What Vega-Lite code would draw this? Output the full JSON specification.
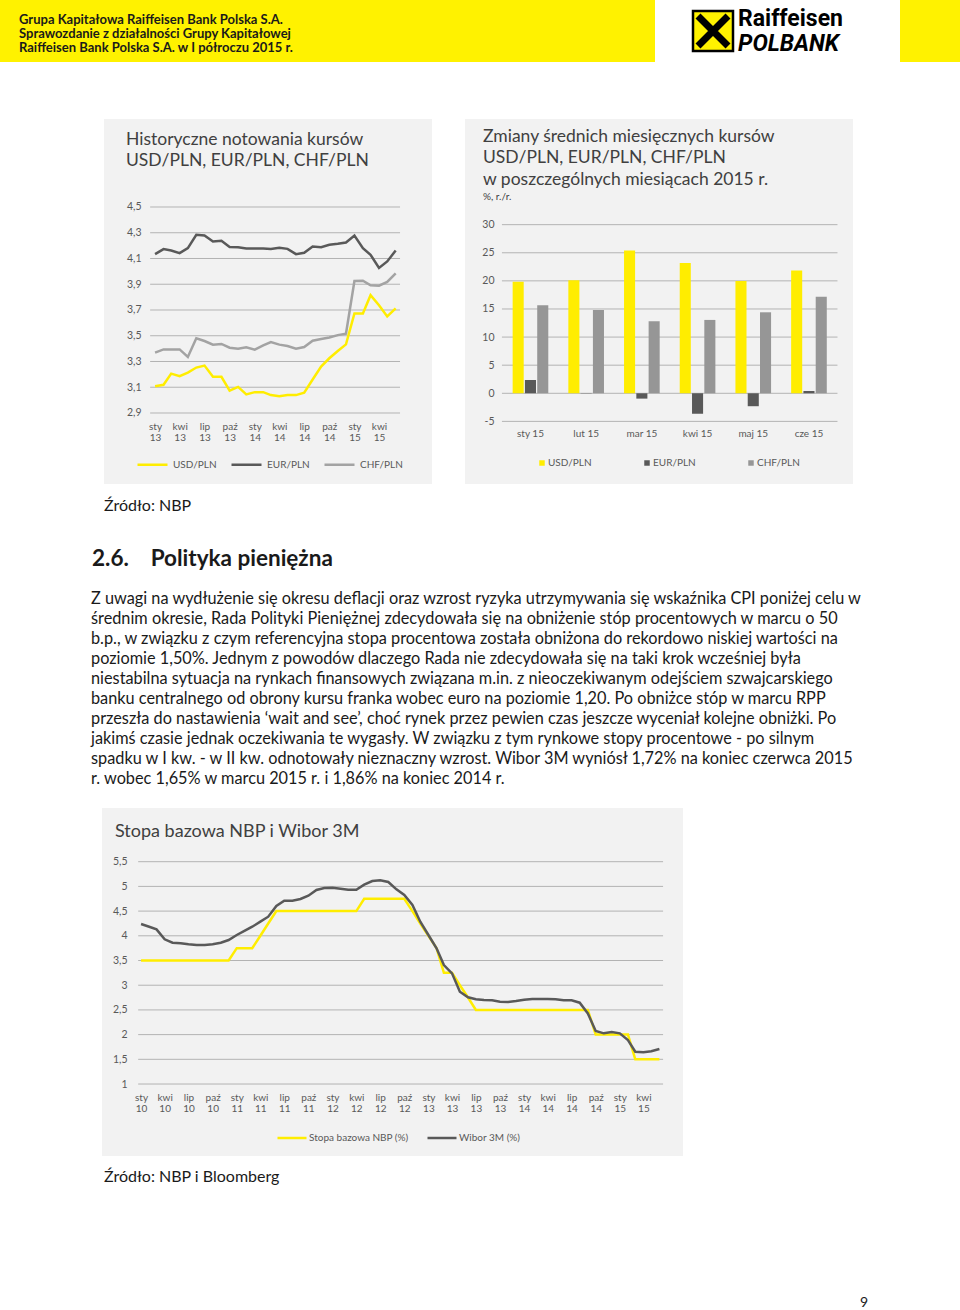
{
  "$schema": "https://vega.github.io/schema/vega-lite/v6.json",
  "padding": 0,
  "spacing": 0,
  "background": "#ffffff",
  "resolve": {"scale": {"color": "independent"}, "legend": {"color": "independent"}},
  "config": {
    "font": "Lato",
    "view": {"stroke": null},
    "concat": {"spacing": 0},
    "axis": {"labelFont": "Lato", "labelColor": "#595959", "ticks": false, "domain": false, "grid": false, "labelPadding": 0, "labelOverlap": false, "labelFlush": false},
    "legend": {"labelFont": "Lato", "labelColor": "#595959", "labelFontSize": 10, "padding": 0},
    "title": {"font": "Lato", "anchor": "start", "frame": "group", "fontWeight": "normal", "color": "#404040"}
  },
  "datasets": {
    "kursy": [
      {"data": "2013-01-01", "USD/PLN": 3.108, "EUR/PLN": 4.134, "CHF/PLN": 3.369},
      {"data": "2013-02-01", "USD/PLN": 3.119, "EUR/PLN": 4.173, "CHF/PLN": 3.394},
      {"data": "2013-03-01", "USD/PLN": 3.206, "EUR/PLN": 4.162, "CHF/PLN": 3.394},
      {"data": "2013-04-01", "USD/PLN": 3.186, "EUR/PLN": 4.142, "CHF/PLN": 3.394},
      {"data": "2013-05-01", "USD/PLN": 3.214, "EUR/PLN": 4.18, "CHF/PLN": 3.335},
      {"data": "2013-06-01", "USD/PLN": 3.253, "EUR/PLN": 4.284, "CHF/PLN": 3.48},
      {"data": "2013-07-01", "USD/PLN": 3.268, "EUR/PLN": 4.278, "CHF/PLN": 3.459},
      {"data": "2013-08-01", "USD/PLN": 3.181, "EUR/PLN": 4.232, "CHF/PLN": 3.431},
      {"data": "2013-09-01", "USD/PLN": 3.181, "EUR/PLN": 4.237, "CHF/PLN": 3.436},
      {"data": "2013-10-01", "USD/PLN": 3.073, "EUR/PLN": 4.19, "CHF/PLN": 3.407},
      {"data": "2013-11-01", "USD/PLN": 3.103, "EUR/PLN": 4.188, "CHF/PLN": 3.4},
      {"data": "2013-12-01", "USD/PLN": 3.044, "EUR/PLN": 4.178, "CHF/PLN": 3.41},
      {"data": "2014-01-01", "USD/PLN": 3.062, "EUR/PLN": 4.178, "CHF/PLN": 3.392},
      {"data": "2014-02-01", "USD/PLN": 3.062, "EUR/PLN": 4.178, "CHF/PLN": 3.425},
      {"data": "2014-03-01", "USD/PLN": 3.039, "EUR/PLN": 4.173, "CHF/PLN": 3.451},
      {"data": "2014-04-01", "USD/PLN": 3.031, "EUR/PLN": 4.183, "CHF/PLN": 3.431},
      {"data": "2014-05-01", "USD/PLN": 3.039, "EUR/PLN": 4.175, "CHF/PLN": 3.42},
      {"data": "2014-06-01", "USD/PLN": 3.039, "EUR/PLN": 4.134, "CHF/PLN": 3.4},
      {"data": "2014-07-01", "USD/PLN": 3.057, "EUR/PLN": 4.144, "CHF/PLN": 3.412},
      {"data": "2014-08-01", "USD/PLN": 3.16, "EUR/PLN": 4.193, "CHF/PLN": 3.461},
      {"data": "2014-09-01", "USD/PLN": 3.261, "EUR/PLN": 4.188, "CHF/PLN": 3.474},
      {"data": "2014-10-01", "USD/PLN": 3.325, "EUR/PLN": 4.206, "CHF/PLN": 3.487},
      {"data": "2014-11-01", "USD/PLN": 3.382, "EUR/PLN": 4.214, "CHF/PLN": 3.505},
      {"data": "2014-12-01", "USD/PLN": 3.433, "EUR/PLN": 4.224, "CHF/PLN": 3.516},
      {"data": "2015-01-01", "USD/PLN": 3.673, "EUR/PLN": 4.278, "CHF/PLN": 3.925},
      {"data": "2015-02-01", "USD/PLN": 3.673, "EUR/PLN": 4.18, "CHF/PLN": 3.928},
      {"data": "2015-03-01", "USD/PLN": 3.815, "EUR/PLN": 4.129, "CHF/PLN": 3.892},
      {"data": "2015-04-01", "USD/PLN": 3.737, "EUR/PLN": 4.026, "CHF/PLN": 3.889},
      {"data": "2015-05-01", "USD/PLN": 3.65, "EUR/PLN": 4.077, "CHF/PLN": 3.918},
      {"data": "2015-06-01", "USD/PLN": 3.712, "EUR/PLN": 4.162, "CHF/PLN": 3.985}
    ],
    "zmiany": [
      {"miesiac": "sty 15", "USD/PLN": 19.85, "EUR/PLN": 2.36, "CHF/PLN": 15.65},
      {"miesiac": "lut 15", "USD/PLN": 20.1, "EUR/PLN": 0.05, "CHF/PLN": 14.83},
      {"miesiac": "mar 15", "USD/PLN": 25.4, "EUR/PLN": -0.95, "CHF/PLN": 12.82},
      {"miesiac": "kwi 15", "USD/PLN": 23.2, "EUR/PLN": -3.66, "CHF/PLN": 13.05},
      {"miesiac": "maj 15", "USD/PLN": 19.96, "EUR/PLN": -2.3, "CHF/PLN": 14.41},
      {"miesiac": "cze 15", "USD/PLN": 21.85, "EUR/PLN": 0.41, "CHF/PLN": 17.19}
    ],
    "stopy": [
      {"data": "2010-01-01", "Stopa bazowa NBP (%)": 3.5, "Wibor 3M (%)": 4.239},
      {"data": "2010-02-01", "Stopa bazowa NBP (%)": 3.5, "Wibor 3M (%)": 4.184},
      {"data": "2010-03-01", "Stopa bazowa NBP (%)": 3.5, "Wibor 3M (%)": 4.131},
      {"data": "2010-04-01", "Stopa bazowa NBP (%)": 3.5, "Wibor 3M (%)": 3.929},
      {"data": "2010-05-01", "Stopa bazowa NBP (%)": 3.5, "Wibor 3M (%)": 3.86},
      {"data": "2010-06-01", "Stopa bazowa NBP (%)": 3.5, "Wibor 3M (%)": 3.848},
      {"data": "2010-07-01", "Stopa bazowa NBP (%)": 3.5, "Wibor 3M (%)": 3.828},
      {"data": "2010-08-01", "Stopa bazowa NBP (%)": 3.5, "Wibor 3M (%)": 3.814},
      {"data": "2010-09-01", "Stopa bazowa NBP (%)": 3.5, "Wibor 3M (%)": 3.814},
      {"data": "2010-10-01", "Stopa bazowa NBP (%)": 3.5, "Wibor 3M (%)": 3.828},
      {"data": "2010-11-01", "Stopa bazowa NBP (%)": 3.5, "Wibor 3M (%)": 3.86},
      {"data": "2010-12-01", "Stopa bazowa NBP (%)": 3.5, "Wibor 3M (%)": 3.915},
      {"data": "2011-01-01", "Stopa bazowa NBP (%)": 3.75, "Wibor 3M (%)": 4.016},
      {"data": "2011-02-01", "Stopa bazowa NBP (%)": 3.75, "Wibor 3M (%)": 4.103},
      {"data": "2011-03-01", "Stopa bazowa NBP (%)": 3.75, "Wibor 3M (%)": 4.184},
      {"data": "2011-04-01", "Stopa bazowa NBP (%)": 4.0, "Wibor 3M (%)": 4.286},
      {"data": "2011-05-01", "Stopa bazowa NBP (%)": 4.25, "Wibor 3M (%)": 4.387},
      {"data": "2011-06-01", "Stopa bazowa NBP (%)": 4.5, "Wibor 3M (%)": 4.603},
      {"data": "2011-07-01", "Stopa bazowa NBP (%)": 4.5, "Wibor 3M (%)": 4.711},
      {"data": "2011-08-01", "Stopa bazowa NBP (%)": 4.5, "Wibor 3M (%)": 4.711},
      {"data": "2011-09-01", "Stopa bazowa NBP (%)": 4.5, "Wibor 3M (%)": 4.745},
      {"data": "2011-10-01", "Stopa bazowa NBP (%)": 4.5, "Wibor 3M (%)": 4.812},
      {"data": "2011-11-01", "Stopa bazowa NBP (%)": 4.5, "Wibor 3M (%)": 4.927},
      {"data": "2011-12-01", "Stopa bazowa NBP (%)": 4.5, "Wibor 3M (%)": 4.968},
      {"data": "2012-01-01", "Stopa bazowa NBP (%)": 4.5, "Wibor 3M (%)": 4.975},
      {"data": "2012-02-01", "Stopa bazowa NBP (%)": 4.5, "Wibor 3M (%)": 4.953},
      {"data": "2012-03-01", "Stopa bazowa NBP (%)": 4.5, "Wibor 3M (%)": 4.933},
      {"data": "2012-04-01", "Stopa bazowa NBP (%)": 4.5, "Wibor 3M (%)": 4.933},
      {"data": "2012-05-01", "Stopa bazowa NBP (%)": 4.75, "Wibor 3M (%)": 5.035},
      {"data": "2012-06-01", "Stopa bazowa NBP (%)": 4.75, "Wibor 3M (%)": 5.109},
      {"data": "2012-07-01", "Stopa bazowa NBP (%)": 4.75, "Wibor 3M (%)": 5.123},
      {"data": "2012-08-01", "Stopa bazowa NBP (%)": 4.75, "Wibor 3M (%)": 5.09},
      {"data": "2012-09-01", "Stopa bazowa NBP (%)": 4.75, "Wibor 3M (%)": 4.94},
      {"data": "2012-10-01", "Stopa bazowa NBP (%)": 4.75, "Wibor 3M (%)": 4.826},
      {"data": "2012-11-01", "Stopa bazowa NBP (%)": 4.5, "Wibor 3M (%)": 4.623},
      {"data": "2012-12-01", "Stopa bazowa NBP (%)": 4.25, "Wibor 3M (%)": 4.286},
      {"data": "2013-01-01", "Stopa bazowa NBP (%)": 4.0, "Wibor 3M (%)": 4.016},
      {"data": "2013-02-01", "Stopa bazowa NBP (%)": 3.75, "Wibor 3M (%)": 3.747},
      {"data": "2013-03-01", "Stopa bazowa NBP (%)": 3.25, "Wibor 3M (%)": 3.409},
      {"data": "2013-04-01", "Stopa bazowa NBP (%)": 3.25, "Wibor 3M (%)": 3.24},
      {"data": "2013-05-01", "Stopa bazowa NBP (%)": 3.0, "Wibor 3M (%)": 2.868},
      {"data": "2013-06-01", "Stopa bazowa NBP (%)": 2.75, "Wibor 3M (%)": 2.755},
      {"data": "2013-07-01", "Stopa bazowa NBP (%)": 2.5, "Wibor 3M (%)": 2.715},
      {"data": "2013-08-01", "Stopa bazowa NBP (%)": 2.5, "Wibor 3M (%)": 2.7},
      {"data": "2013-09-01", "Stopa bazowa NBP (%)": 2.5, "Wibor 3M (%)": 2.695},
      {"data": "2013-10-01", "Stopa bazowa NBP (%)": 2.5, "Wibor 3M (%)": 2.666},
      {"data": "2013-11-01", "Stopa bazowa NBP (%)": 2.5, "Wibor 3M (%)": 2.66},
      {"data": "2013-12-01", "Stopa bazowa NBP (%)": 2.5, "Wibor 3M (%)": 2.68},
      {"data": "2014-01-01", "Stopa bazowa NBP (%)": 2.5, "Wibor 3M (%)": 2.707},
      {"data": "2014-02-01", "Stopa bazowa NBP (%)": 2.5, "Wibor 3M (%)": 2.72},
      {"data": "2014-03-01", "Stopa bazowa NBP (%)": 2.5, "Wibor 3M (%)": 2.72},
      {"data": "2014-04-01", "Stopa bazowa NBP (%)": 2.5, "Wibor 3M (%)": 2.72},
      {"data": "2014-05-01", "Stopa bazowa NBP (%)": 2.5, "Wibor 3M (%)": 2.715},
      {"data": "2014-06-01", "Stopa bazowa NBP (%)": 2.5, "Wibor 3M (%)": 2.695},
      {"data": "2014-07-01", "Stopa bazowa NBP (%)": 2.5, "Wibor 3M (%)": 2.695},
      {"data": "2014-08-01", "Stopa bazowa NBP (%)": 2.5, "Wibor 3M (%)": 2.646},
      {"data": "2014-09-01", "Stopa bazowa NBP (%)": 2.5, "Wibor 3M (%)": 2.43},
      {"data": "2014-10-01", "Stopa bazowa NBP (%)": 2.0, "Wibor 3M (%)": 2.073},
      {"data": "2014-11-01", "Stopa bazowa NBP (%)": 2.0, "Wibor 3M (%)": 2.026},
      {"data": "2014-12-01", "Stopa bazowa NBP (%)": 2.0, "Wibor 3M (%)": 2.053},
      {"data": "2015-01-01", "Stopa bazowa NBP (%)": 2.0, "Wibor 3M (%)": 2.026},
      {"data": "2015-02-01", "Stopa bazowa NBP (%)": 2.0, "Wibor 3M (%)": 1.89},
      {"data": "2015-03-01", "Stopa bazowa NBP (%)": 1.5, "Wibor 3M (%)": 1.654},
      {"data": "2015-04-01", "Stopa bazowa NBP (%)": 1.5, "Wibor 3M (%)": 1.641},
      {"data": "2015-05-01", "Stopa bazowa NBP (%)": 1.5, "Wibor 3M (%)": 1.662},
      {"data": "2015-06-01", "Stopa bazowa NBP (%)": 1.5, "Wibor 3M (%)": 1.709}
    ],
    "siatka1": [{"poziom": 2.9}, {"poziom": 3.1}, {"poziom": 3.3}, {"poziom": 3.5}, {"poziom": 3.7}, {"poziom": 3.9}, {"poziom": 4.1}, {"poziom": 4.3}, {"poziom": 4.5}],
    "siatka2": [{"poziom": -5}, {"poziom": 0}, {"poziom": 5}, {"poziom": 10}, {"poziom": 15}, {"poziom": 20}, {"poziom": 25}, {"poziom": 30}],
    "siatka3": [{"poziom": 1}, {"poziom": 1.5}, {"poziom": 2}, {"poziom": 2.5}, {"poziom": 3}, {"poziom": 3.5}, {"poziom": 4}, {"poziom": 4.5}, {"poziom": 5}, {"poziom": 5.5}],
    "akapit": [
      {"nr": 1, "tekst": "Z uwagi na wydłużenie się okresu deflacji oraz wzrost ryzyka utrzymywania się wskaźnika CPI poniżej celu w"},
      {"nr": 2, "tekst": "średnim okresie, Rada Polityki Pieniężnej zdecydowała się na obniżenie stóp procentowych w marcu o 50"},
      {"nr": 3, "tekst": "b.p., w związku z czym referencyjna stopa procentowa została obniżona do rekordowo niskiej wartości na"},
      {"nr": 4, "tekst": "poziomie 1,50%. Jednym z powodów dlaczego Rada nie zdecydowała się na taki krok wcześniej była"},
      {"nr": 5, "tekst": "niestabilna sytuacja na rynkach finansowych związana m.in. z nieoczekiwanym odejściem szwajcarskiego"},
      {"nr": 6, "tekst": "banku centralnego od obrony kursu franka wobec euro na poziomie 1,20. Po obniżce stóp w marcu RPP"},
      {"nr": 7, "tekst": "przeszła do nastawienia ‘wait and see’, choć rynek przez pewien czas jeszcze wyceniał kolejne obniżki. Po"},
      {"nr": 8, "tekst": "jakimś czasie jednak oczekiwania te wygasły. W związku z tym rynkowe stopy procentowe - po silnym"},
      {"nr": 9, "tekst": "spadku w I kw. - w II kw. odnotowały nieznaczny wzrost. Wibor 3M wyniósł 1,72% na koniec czerwca 2015"},
      {"nr": 10, "tekst": "r. wobec 1,65% w marcu 2015 r. i 1,86% na koniec 2014 r."}
    ]
  },
  "vconcat": [
    {
      "spacing": 0,
      "bounds": "flush",
      "hconcat": [
        {"width": 655, "height": 62, "view": {"fill": "#fff200", "stroke": null}, "data": {"values": []}, "mark": "rect", "encoding": {},
         "title": {"text": ["Grupa Kapitałowa Raiffeisen Bank Polska S.A.", "Sprawozdanie z działalności Grupy Kapitałowej", "Raiffeisen Bank Polska S.A. w I półroczu 2015 r."], "dx": 19, "offset": -55, "fontSize": 13, "fontWeight": "bold", "color": "#1a1a1a", "lineHeight": 14}},
        {"width": 38, "height": 62, "data": {"values": []}, "mark": "rect", "encoding": {}},
        {"width": 40, "height": 62, "data": {"values": [{"logo": "Raiffeisen"}]},
         "layer": [
           {"mark": {"type": "point", "shape": "square", "size": 1600, "filled": true, "fill": "#fff200", "stroke": "#000000", "strokeWidth": 2.5, "opacity": 1}, "encoding": {}},
           {"mark": {"type": "point", "shape": "M-0.75,-0.75L0.75,0.75M0.75,-0.75L-0.75,0.75", "size": 1600, "filled": false, "stroke": "#000000", "strokeWidth": 7, "opacity": 1}, "encoding": {}}
         ]},
        {"width": 167, "height": 62, "data": {"values": []}, "mark": "rect", "encoding": {},
         "title": {"text": "Raiffeisen", "subtitle": "POLBANK", "dx": 5, "offset": -56, "font": "Roboto", "fontSize": 23, "fontWeight": "bold", "color": "#000000", "subtitleFont": "Roboto", "subtitleFontSize": 23, "subtitleFontWeight": "bold", "subtitleFontStyle": "italic", "subtitleColor": "#000000", "subtitlePadding": 2}},
        {"width": 60, "height": 62, "view": {"fill": "#fff200", "stroke": null}, "data": {"values": []}, "mark": "rect", "encoding": {}}
      ]
    },
    {"width": 10, "height": 57, "data": {"values": []}, "mark": "rect", "encoding": {}},
    {
      "spacing": 0,
      "bounds": "flush",
      "resolve": {"scale": {"color": "independent"}, "legend": {"color": "independent"}},
      "hconcat": [
        {"width": 104, "height": 365, "data": {"values": []}, "mark": "rect", "encoding": {}},
        {
          "width": 328, "height": 365,
          "view": {"fill": "#f2f2f2", "stroke": null},
          "title": {"text": ["Historyczne notowania kursów", "USD/PLN, EUR/PLN, CHF/PLN"], "dx": 22, "offset": -50, "fontSize": 17.5, "lineHeight": 21},
          "resolve": {"axis": {"x": "independent", "y": "independent"}},
          "layer": [
            {
              "data": {"name": "siatka1"},
              "mark": {"type": "rule", "color": "#b3b3b3", "strokeWidth": 1},
              "encoding": {
                "y": {"field": "poziom", "type": "quantitative", "axis": null, "scale": {"domain": [2.3485, 5.1835], "nice": false, "zero": false}},
                "x": {"datum": {"year": 2012, "month": 12, "date": 14, "utc": true}, "type": "temporal", "axis": null,
                      "scale": {"type": "utc", "domain": [{"year": 2012, "month": 6, "date": 28, "utc": true}, {"year": 2015, "month": 10, "date": 12, "utc": true}]}},
                "x2": {"datum": {"year": 2015, "month": 6, "date": 17, "utc": true}}
              }
            },
            {
              "data": {"name": "kursy"},
              "transform": [{"fold": ["USD/PLN", "EUR/PLN", "CHF/PLN"], "as": ["waluta", "kurs"]}],
              "mark": {"type": "line", "strokeWidth": 2.5},
              "encoding": {
                "x": {"field": "data", "type": "temporal", "title": null,
                      "scale": {"type": "utc", "domain": [{"year": 2012, "month": 6, "date": 28, "utc": true}, {"year": 2015, "month": 10, "date": 12, "utc": true}]},
                      "axis": {"orient": "bottom", "offset": -63, "labelFontSize": 10, "labelLineHeight": 11, "labelOverlap": false,
                               "values": [{"year": 2013, "month": 1, "date": 1, "utc": true}, {"year": 2013, "month": 4, "date": 1, "utc": true}, {"year": 2013, "month": 7, "date": 1, "utc": true}, {"year": 2013, "month": 10, "date": 1, "utc": true}, {"year": 2014, "month": 1, "date": 1, "utc": true}, {"year": 2014, "month": 4, "date": 1, "utc": true}, {"year": 2014, "month": 7, "date": 1, "utc": true}, {"year": 2014, "month": 10, "date": 1, "utc": true}, {"year": 2015, "month": 1, "date": 1, "utc": true}, {"year": 2015, "month": 4, "date": 1, "utc": true}],
                               "labelExpr": "[['sty','lut','mar','kwi','maj','cze','lip','sie','wrz','paź','lis','gru'][utcmonth(datum.value)], utcFormat(datum.value, '%y')]"}},
                "y": {"field": "kurs", "type": "quantitative", "title": null, "scale": {"domain": [2.3485, 5.1835], "nice": false, "zero": false},
                      "axis": {"orient": "left", "offset": -37, "labelFontSize": 10.5, "labelOverlap": false, "values": [2.9, 3.1, 3.3, 3.5, 3.7, 3.9, 4.1, 4.3, 4.5], "labelExpr": "replace(format(datum.value, '.1f'), '.', ',')"}},
                "color": {"field": "waluta", "type": "nominal",
                          "scale": {"domain": ["USD/PLN", "EUR/PLN", "CHF/PLN"], "range": ["#ffed00", "#595959", "#a3a3a3"]},
                          "legend": {"title": null, "orient": "none", "legendX": 32, "legendY": 329, "direction": "horizontal", "symbolType": "stroke", "symbolSize": 900, "symbolStrokeWidth": 2.5, "labelOffset": 4, "columnPadding": 9}}
              }
            }
          ]
        },
        {"width": 33, "height": 365, "data": {"values": []}, "mark": "rect", "encoding": {}},
        {
          "width": 388, "height": 365,
          "view": {"fill": "#f2f2f2", "stroke": null},
          "title": {"text": ["Zmiany średnich miesięcznych kursów", "USD/PLN, EUR/PLN, CHF/PLN", "w poszczególnych miesiącach 2015 r."], "subtitle": "%, r./r.", "dx": 18, "offset": -83, "fontSize": 17.5, "lineHeight": 21.5, "subtitleFontSize": 10, "subtitleColor": "#404040", "subtitlePadding": 4},
          "resolve": {"axis": {"x": "independent", "y": "independent"}},
          "layer": [
            {
              "data": {"name": "siatka2"},
              "mark": {"type": "rule", "color": "#b3b3b3", "strokeWidth": 1},
              "encoding": {
                "y": {"field": "poziom", "type": "quantitative", "axis": null, "scale": {"domain": [-16.14, 48.8], "nice": false, "zero": false}},
                "x": {"datum": "sty 15", "type": "nominal", "bandPosition": -0.3, "axis": null},
                "x2": {"datum": "cze 15", "bandPosition": 1.3}
              }
            },
            {
              "data": {"name": "zmiany"},
              "transform": [{"fold": ["USD/PLN", "EUR/PLN", "CHF/PLN"], "as": ["waluta", "zmiana"]}],
              "mark": {"type": "bar"},
              "encoding": {
                "x": {"field": "miesiac", "type": "nominal", "title": null, "sort": null,
                      "scale": {"type": "band", "domain": ["sty 15", "lut 15", "mar 15", "kwi 15", "maj 15", "cze 15"], "paddingInner": 0.36, "paddingOuter": 0.663, "align": 0.645},
                      "axis": {"orient": "bottom", "offset": -56, "labelAngle": 0, "labelFontSize": 10, "labelOverlap": false}},
                "xOffset": {"field": "waluta", "type": "nominal", "sort": ["USD/PLN", "EUR/PLN", "CHF/PLN"], "scale": {"domain": ["USD/PLN", "EUR/PLN", "CHF/PLN"], "paddingInner": 0.1, "paddingOuter": 0}},
                "y": {"field": "zmiana", "type": "quantitative", "title": null, "scale": {"domain": [-16.14, 48.8], "nice": false, "zero": false},
                      "axis": {"orient": "left", "offset": -29, "labelFontSize": 10.5, "labelOverlap": false, "values": [-5, 0, 5, 10, 15, 20, 25, 30], "labelExpr": "replace(format(datum.value, 'd'), '−', '-')"}},
                "color": {"field": "waluta", "type": "nominal",
                          "scale": {"domain": ["USD/PLN", "EUR/PLN", "CHF/PLN"], "range": ["#ffed00", "#595959", "#969696"]},
                          "legend": {"title": null, "orient": "none", "legendX": 72, "legendY": 339, "direction": "horizontal", "symbolType": "square", "symbolSize": 30, "labelOffset": 1, "columnPadding": 50}}
              }
            }
          ]
        }
      ]
    },
    {
      "spacing": 0,
      "bounds": "flush",
      "hconcat": [
        {"width": 104, "height": 44, "data": {"values": []}, "mark": "rect", "encoding": {}},
        {"width": 300, "height": 44, "data": {"values": [{"tekst": "Źródło: NBP"}]},
         "mark": {"type": "text", "align": "left", "baseline": "middle", "fontSize": 16, "color": "#1a1a1a"},
         "encoding": {"text": {"field": "tekst"}, "x": {"datum": 0, "type": "quantitative", "scale": {"domain": [0, 1]}, "axis": null}}}
      ]
    },
    {
      "spacing": 0,
      "bounds": "flush",
      "hconcat": [
        {"width": 92, "height": 61, "data": {"values": []}, "mark": "rect", "encoding": {}},
        {"width": 400, "height": 61, "data": {"values": [{"tekst": "2.6.\u00a0\u00a0\u00a0\u00a0Polityka pieniężna"}]},
         "mark": {"type": "text", "align": "left", "baseline": "middle", "fontSize": 22.5, "fontWeight": "bold", "color": "#1a1a1a"},
         "encoding": {"text": {"field": "tekst"}, "x": {"datum": 0, "type": "quantitative", "scale": {"domain": [0, 1]}, "axis": null}}}
      ]
    },
    {
      "spacing": 0,
      "bounds": "flush",
      "hconcat": [
        {"width": 91, "height": 200, "data": {"values": []}, "mark": "rect", "encoding": {}},
        {"width": 780, "height": 200, "data": {"name": "akapit"},
         "mark": {"type": "text", "align": "left", "baseline": "middle", "fontSize": 16.3, "color": "#1a1a1a"},
         "encoding": {"text": {"field": "tekst"},
                      "y": {"field": "nr", "type": "ordinal", "axis": null, "scale": {"type": "point", "padding": 0.5}},
                      "x": {"datum": 0, "type": "quantitative", "scale": {"domain": [0, 1]}, "axis": null}}}
      ]
    },
    {"width": 10, "height": 19, "data": {"values": []}, "mark": "rect", "encoding": {}},
    {
      "spacing": 0,
      "bounds": "flush",
      "resolve": {"scale": {"color": "independent"}, "legend": {"color": "independent"}},
      "hconcat": [
        {"width": 102, "height": 348, "data": {"values": []}, "mark": "rect", "encoding": {}},
        {
          "width": 581, "height": 348,
          "view": {"fill": "#f2f2f2", "stroke": null},
          "title": {"text": "Stopa bazowa NBP i Wibor 3M", "dx": 13, "offset": -33, "fontSize": 18},
          "resolve": {"axis": {"x": "independent", "y": "independent"}},
          "layer": [
            {
              "data": {"name": "siatka3"},
              "mark": {"type": "rule", "color": "#b3b3b3", "strokeWidth": 1},
              "encoding": {
                "y": {"field": "poziom", "type": "quantitative", "axis": null, "scale": {"domain": [-0.457, 6.587], "nice": false, "zero": false}},
                "x": {"datum": {"year": 2009, "month": 12, "date": 21, "utc": true}, "type": "temporal", "axis": null,
                      "scale": {"type": "utc", "domain": [{"year": 2009, "month": 8, "date": 5, "utc": true}, {"year": 2015, "month": 8, "date": 30, "utc": true}]}},
                "x2": {"datum": {"year": 2015, "month": 6, "date": 15, "utc": true}}
              }
            },
            {
              "data": {"name": "stopy"},
              "transform": [{"fold": ["Stopa bazowa NBP (%)", "Wibor 3M (%)"], "as": ["seria", "stopa"]}],
              "mark": {"type": "line", "strokeWidth": 2.5},
              "encoding": {
                "x": {"field": "data", "type": "temporal", "title": null,
                      "scale": {"type": "utc", "domain": [{"year": 2009, "month": 8, "date": 5, "utc": true}, {"year": 2015, "month": 8, "date": 30, "utc": true}]},
                      "axis": {"orient": "bottom", "offset": -64, "labelFontSize": 10, "labelLineHeight": 11, "labelOverlap": false,
                               "values": [{"year": 2010, "month": 1, "date": 1, "utc": true}, {"year": 2010, "month": 4, "date": 1, "utc": true}, {"year": 2010, "month": 7, "date": 1, "utc": true}, {"year": 2010, "month": 10, "date": 1, "utc": true}, {"year": 2011, "month": 1, "date": 1, "utc": true}, {"year": 2011, "month": 4, "date": 1, "utc": true}, {"year": 2011, "month": 7, "date": 1, "utc": true}, {"year": 2011, "month": 10, "date": 1, "utc": true}, {"year": 2012, "month": 1, "date": 1, "utc": true}, {"year": 2012, "month": 4, "date": 1, "utc": true}, {"year": 2012, "month": 7, "date": 1, "utc": true}, {"year": 2012, "month": 10, "date": 1, "utc": true}, {"year": 2013, "month": 1, "date": 1, "utc": true}, {"year": 2013, "month": 4, "date": 1, "utc": true}, {"year": 2013, "month": 7, "date": 1, "utc": true}, {"year": 2013, "month": 10, "date": 1, "utc": true}, {"year": 2014, "month": 1, "date": 1, "utc": true}, {"year": 2014, "month": 4, "date": 1, "utc": true}, {"year": 2014, "month": 7, "date": 1, "utc": true}, {"year": 2014, "month": 10, "date": 1, "utc": true}, {"year": 2015, "month": 1, "date": 1, "utc": true}, {"year": 2015, "month": 4, "date": 1, "utc": true}],
                               "labelExpr": "[['sty','lut','mar','kwi','maj','cze','lip','sie','wrz','paź','lis','gru'][utcmonth(datum.value)], utcFormat(datum.value, '%y')]"}},
                "y": {"field": "stopa", "type": "quantitative", "title": null, "scale": {"domain": [-0.457, 6.587], "nice": false, "zero": false},
                      "axis": {"orient": "left", "offset": -25, "labelFontSize": 10.5, "labelOverlap": false, "values": [1, 1.5, 2, 2.5, 3, 3.5, 4, 4.5, 5, 5.5], "labelExpr": "replace(format(datum.value, '.1~f'), '.', ',')"}},
                "color": {"field": "seria", "type": "nominal",
                          "scale": {"domain": ["Stopa bazowa NBP (%)", "Wibor 3M (%)"], "range": ["#ffed00", "#595959"]},
                          "legend": {"title": null, "orient": "none", "legendX": 174, "legendY": 314, "direction": "horizontal", "symbolType": "stroke", "symbolSize": 841, "symbolStrokeWidth": 2.5, "labelOffset": 1, "columnPadding": 13}}
              }
            }
          ]
        }
      ]
    },
    {
      "spacing": 0,
      "bounds": "flush",
      "hconcat": [
        {"width": 104, "height": 42, "data": {"values": []}, "mark": "rect", "encoding": {}},
        {"width": 300, "height": 42, "data": {"values": [{"tekst": "Źródło: NBP i Bloomberg"}]},
         "mark": {"type": "text", "align": "left", "baseline": "middle", "fontSize": 16, "color": "#1a1a1a"},
         "encoding": {"text": {"field": "tekst"}, "x": {"datum": 0, "type": "quantitative", "scale": {"domain": [0, 1]}, "axis": null}}}
      ]
    },
    {"width": 10, "height": 98, "data": {"values": []}, "mark": "rect", "encoding": {}},
    {
      "spacing": 0,
      "bounds": "flush",
      "hconcat": [
        {"width": 855, "height": 14, "data": {"values": []}, "mark": "rect", "encoding": {}},
        {"width": 18, "height": 14, "data": {"values": [{"strona": "9"}]},
         "mark": {"type": "text", "align": "center", "baseline": "middle", "fontSize": 14, "color": "#1a1a1a"},
         "encoding": {"text": {"field": "strona"}}}
      ]
    }
  ]
}
